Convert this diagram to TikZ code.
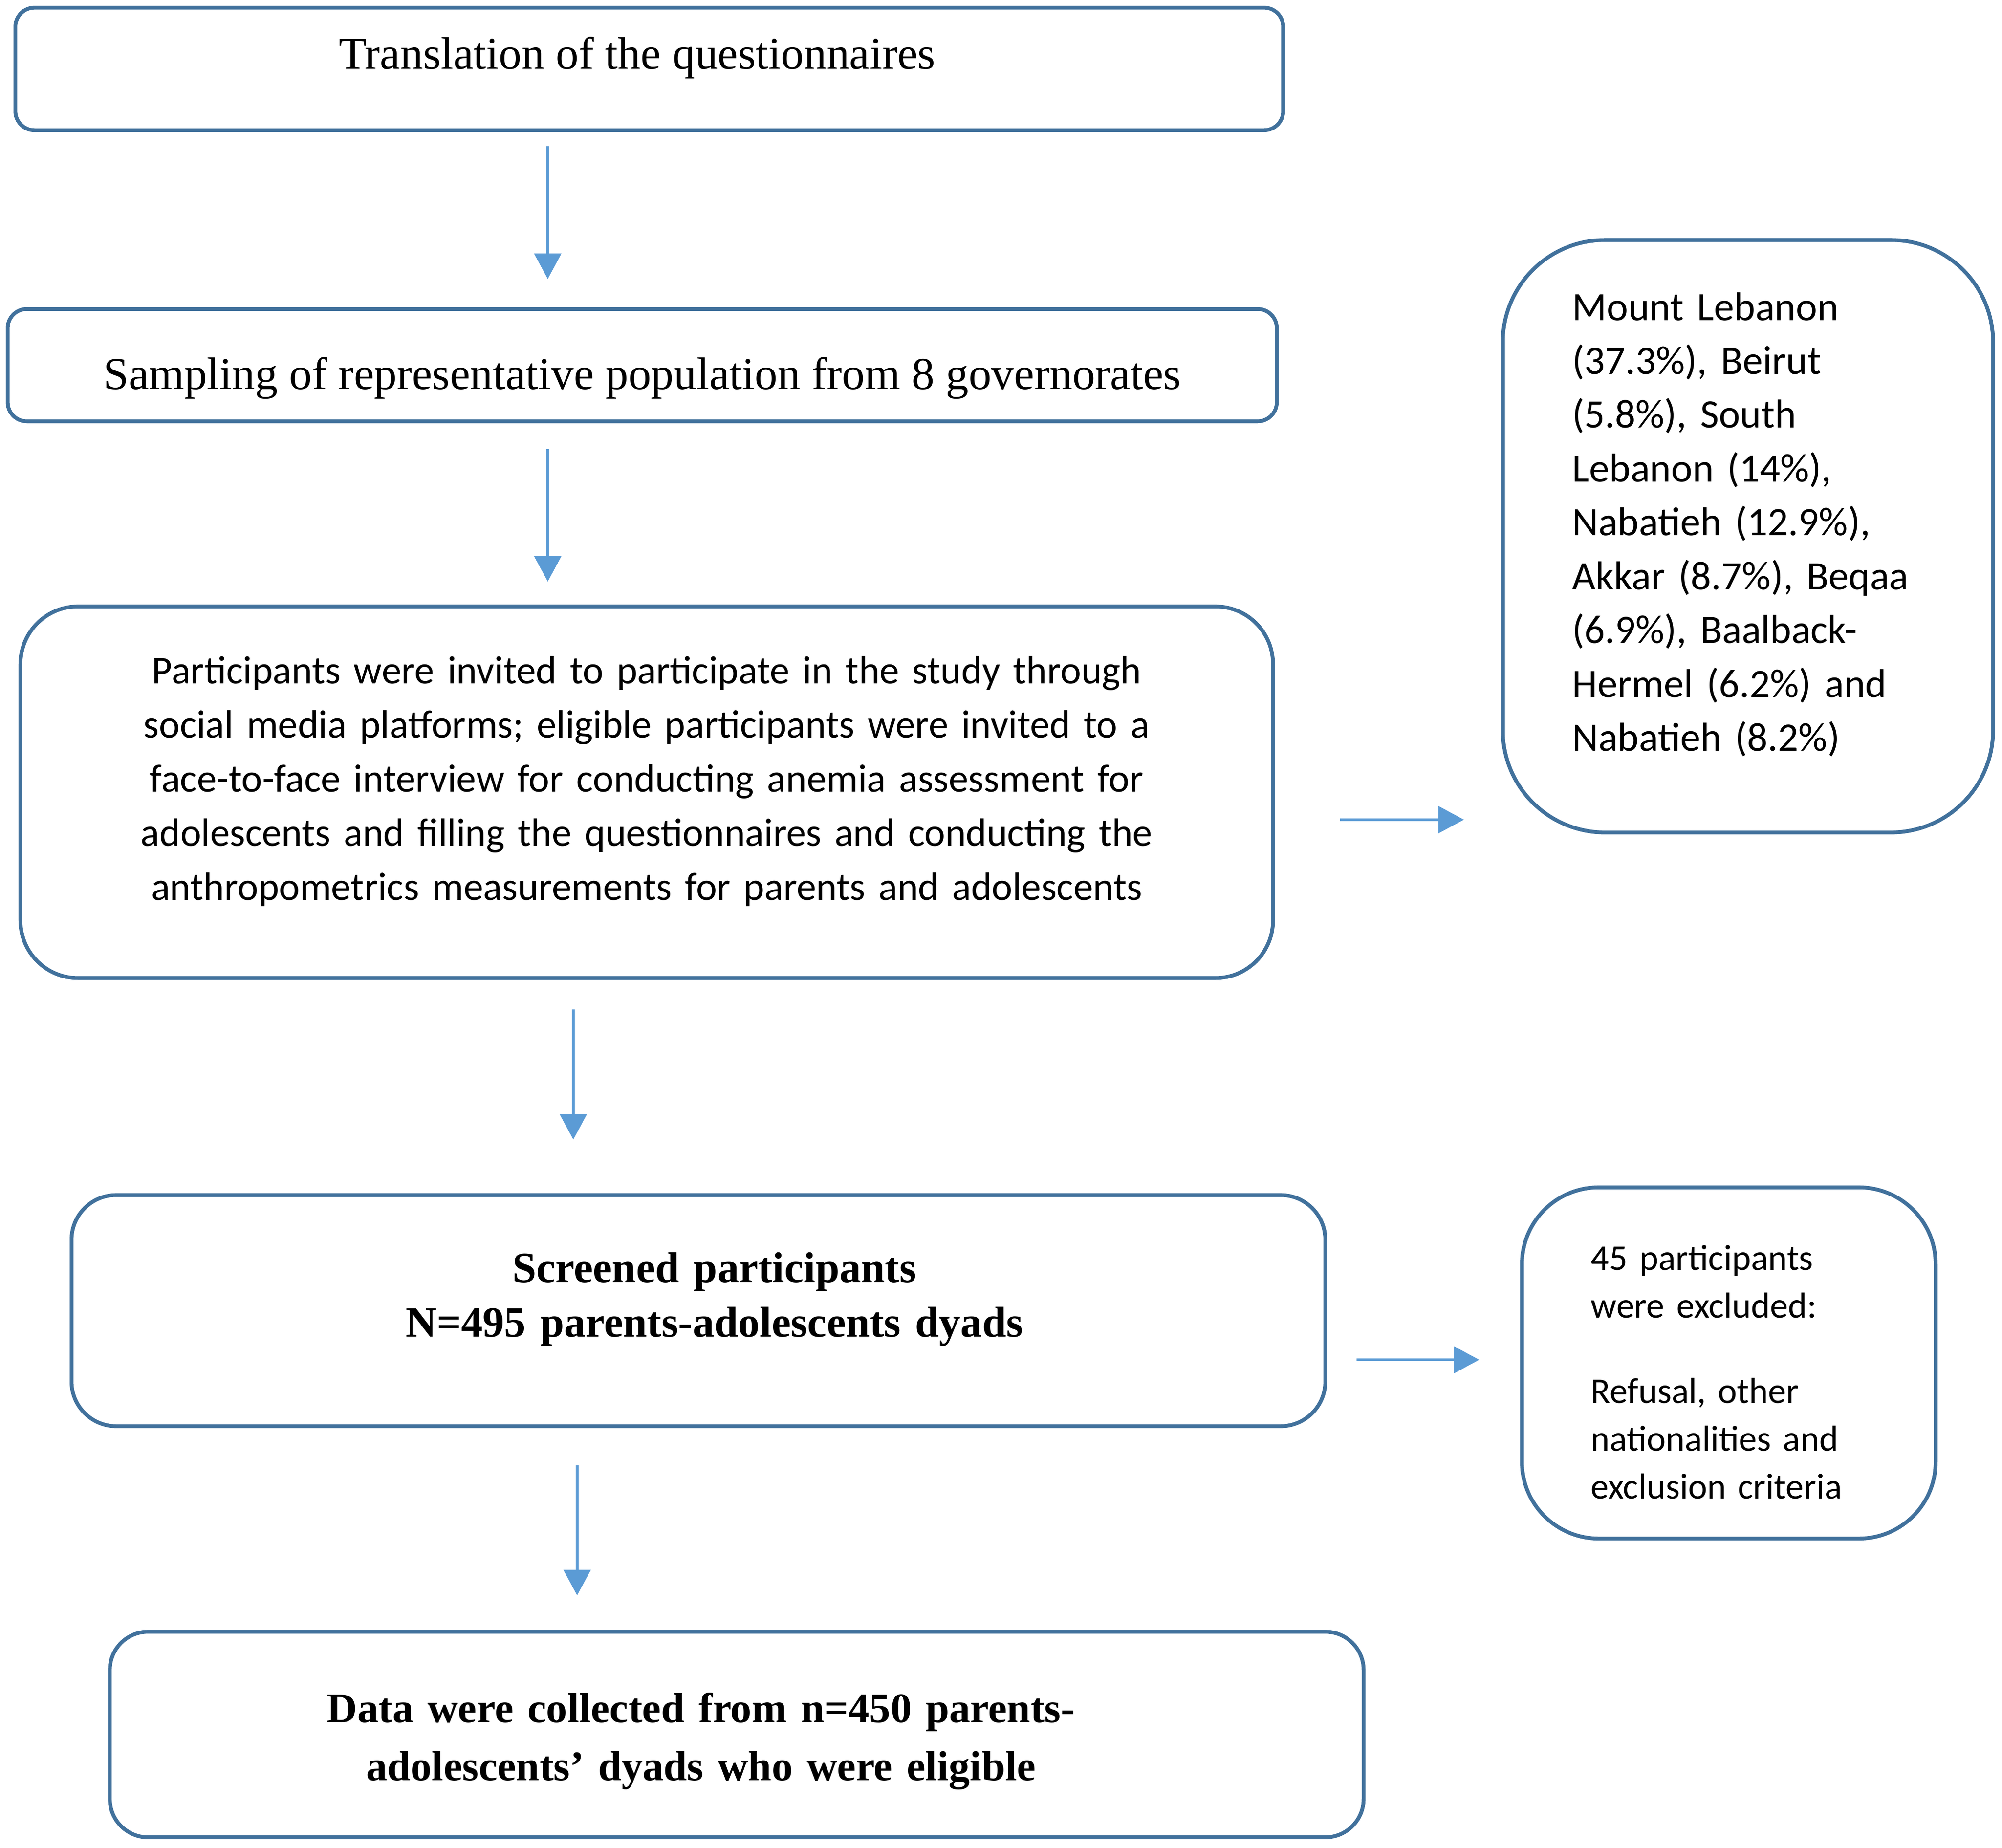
\documentclass[tikz,border=0pt]{standalone}
\usepackage{fontspec}
\setmainfont{Liberation Serif}
\newfontfamily\calibri{Carlito}
\usepackage{tikz}
\usetikzlibrary{positioning, calc}
\usetikzlibrary{arrows.meta}
\definecolor{boxblue}{HTML}{41719C}
\definecolor{arrowblue}{HTML}{5B9BD5}
\tikzstyle{flowbox}=[draw=boxblue, line width=1.7pt, inner sep=0pt, fill=white]
\tikzstyle{sidebox}=[flowbox, align=left, font=\calibri\fontsize{18}{24}\selectfont]
\tikzstyle{flowarrow}=[-{Triangle[length=0.4cm,width=0.42cm]}, color=arrowblue, line width=1.2pt]

\begin{document}
\begin{tikzpicture}
    \useasboundingbox (0,0) rectangle (31.36,-28.94);

    \node[flowbox, rounded corners=0.3cm, minimum width=19.86cm, minimum height=1.92cm,
        font=\fontsize{20.3}{25}\selectfont, text height=0.6cm, text depth=0.6cm]
        (trans) at (10.17,-1.08) {\hspace*{-0.38cm}Translation of the questionnaires};
    \node[flowbox, rounded corners=0.3cm, minimum width=19.88cm, minimum height=1.76cm,
        font=\fontsize{20.3}{25}\selectfont, text height=0.88cm, text depth=0.12cm,
        below=2.74cm of trans, xshift=-0.11cm]
        (samp) {Sampling of representative population from 8 governorates};
    \node[flowbox, rounded corners=0.9cm, minimum width=19.62cm, minimum height=5.82cm,
        text width=18cm, align=center, font=\calibri\fontsize{17.6}{24.1}\selectfont,
        text height=14pt, text depth=110.6pt,
        below=2.84cm of samp, xshift=0.07cm]
        (invite) {Participants were invited to participate in the study through\\
        social media platforms; eligible participants were invited to a\\
        face-to-face interview for conducting anemia assessment for\\
        adolescents and filling the questionnaires and conducting the\\
        anthropometrics measurements for parents and adolescents};
    \node[sidebox, rounded corners=1.6cm, minimum width=7.68cm, minimum height=9.28cm,
        text width=5.5cm, text height=14pt, text depth=206.5pt,
        right=3.54cm of invite, yshift=4.01cm]
        (govern) {Mount Lebanon\\ (37.3\%), Beirut\\ (5.8\%), South\\ Lebanon (14\%),\\
        Nabatieh (12.9\%),\\ Akkar (8.7\%), Beqaa\\ (6.9\%), Baalback-\\
        Hermel (6.2\%) and\\ Nabatieh (8.2\%)};
    \node[flowbox, rounded corners=0.7cm, minimum width=19.64cm, minimum height=3.62cm,
        text width=18cm, align=center, font=\bfseries\fontsize{19.2}{24.4}\selectfont,
        text height=14pt, text depth=39.2pt,
        below=3.34cm of invite, xshift=0.81cm]
        (screen) {\hspace*{0.5cm}Screened participants\\
        \hspace*{0.5cm}N=495 parents-adolescents dyads};
    \node[sidebox, rounded corners=1.2cm, minimum width=6.48cm, minimum height=5.5cm,
        text width=4.32cm, font=\calibri\fontsize{16.1}{21.3}\selectfont,
        text height=12pt, text depth=95pt,
        right=3.02cm of screen, yshift=-0.82cm]
        (excl) {45 participants\\ were excluded:\\[0.59cm] Refusal, other\\
        nationalities and\\ exclusion criteria};
    \node[flowbox, rounded corners=0.6cm, minimum width=19.64cm, minimum height=3.22cm,
        text width=18cm, align=center, font=\bfseries\fontsize{18.8}{26}\selectfont,
        text height=14pt, text depth=24.9pt,
        below=3.16cm of screen, xshift=0.6cm]
        (data) {\hspace*{-1.12cm}Data were collected from n=450 parents-\\
        \hspace*{-1.12cm}adolescents' dyads who were eligible};

    \path[flowarrow]
        ([xshift=-1.59cm]trans.south) edge[shorten <=0.22cm, shorten >=0.44cm] ([xshift=-1.48cm]samp.north)
        ([xshift=-1.48cm]samp.south) edge[shorten <=0.4cm, shorten >=0.36cm] ([xshift=-1.55cm]invite.north)
        ([yshift=-0.43cm]invite.east) edge[shorten <=1.02cm, shorten >=0.58cm] ([yshift=-4.44cm]govern.west)
        ([xshift=-1.15cm]invite.south) edge[shorten <=0.46cm, shorten >=0.84cm] ([xshift=-1.96cm]screen.north)
        ([yshift=-0.77cm]screen.east) edge[shorten <=0.46cm, shorten >=0.64cm] ([yshift=0.05cm]excl.west)
        ([xshift=-1.9cm]screen.south) edge[shorten <=0.58cm, shorten >=0.54cm] ([xshift=-2.5cm]data.north);
\end{tikzpicture}
\end{document}
